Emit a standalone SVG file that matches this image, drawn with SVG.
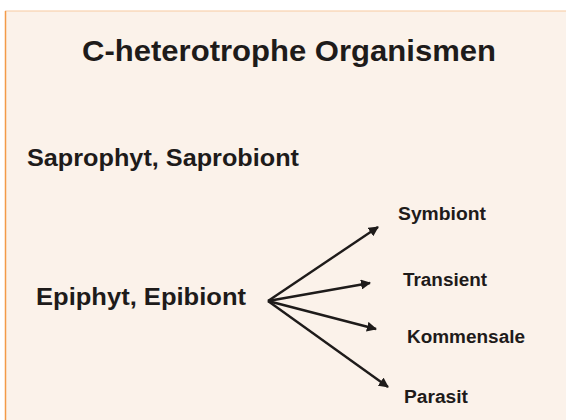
<svg xmlns="http://www.w3.org/2000/svg" width="566" height="420" viewBox="0 0 566 420">
<style>
.t{font-family:"Liberation Sans",Arial,sans-serif;font-weight:bold;fill:#1e1b1a}
.s{font-size:17.5px}
.c{stroke:#1e1b1a;stroke-width:2.4;fill:none;marker-end:url(#ah)}
</style>
<defs>
<marker id="ah" viewBox="0 0 10 10" refX="9" refY="5" markerWidth="4.2" markerHeight="4.2" orient="auto" markerUnits="strokeWidth">
<path d="M0,0 L10,5 L0,10 z" fill="#1e1b1a"/>
</marker>
</defs>
<rect width="566" height="420" fill="#ffffff"/>
<rect x="5.5" y="11" width="561" height="410" fill="#fbf2ea" stroke="#f8c9a0" stroke-width="1"/>
<line x1="5.5" y1="11" x2="5.5" y2="420" stroke="#f39a48" stroke-width="1.5"/>
<g id="title"><text class="t" x="82" y="61" font-size="30" textLength="414" lengthAdjust="spacingAndGlyphs">C-heterotrophe Organismen</text></g>
<g id="saprophyt"><text class="t" x="27" y="166" font-size="24" textLength="272" lengthAdjust="spacingAndGlyphs">Saprophyt, Saprobiont</text></g>
<g id="epiphyt"><text class="t" x="36" y="305" font-size="23" textLength="210" lengthAdjust="spacingAndGlyphs">Epiphyt, Epibiont</text></g>
<g id="symbiont"><text class="t s" x="398" y="220" textLength="88" lengthAdjust="spacingAndGlyphs">Symbiont</text></g>
<g id="transient"><text class="t s" x="403" y="286" textLength="84" lengthAdjust="spacingAndGlyphs">Transient</text></g>
<g id="kommensale"><text class="t s" x="407" y="343" textLength="118" lengthAdjust="spacingAndGlyphs">Kommensale</text></g>
<g id="parasit"><text class="t s" x="404" y="403" textLength="64" lengthAdjust="spacingAndGlyphs">Parasit</text></g>
<g id="connectors">
<line class="c" x1="268" y1="301" x2="378" y2="227"/>
<line class="c" x1="268" y1="301" x2="370" y2="283"/>
<line class="c" x1="268" y1="301" x2="376" y2="329"/>
<line class="c" x1="268" y1="301" x2="388" y2="387"/>
</g>
</svg>
